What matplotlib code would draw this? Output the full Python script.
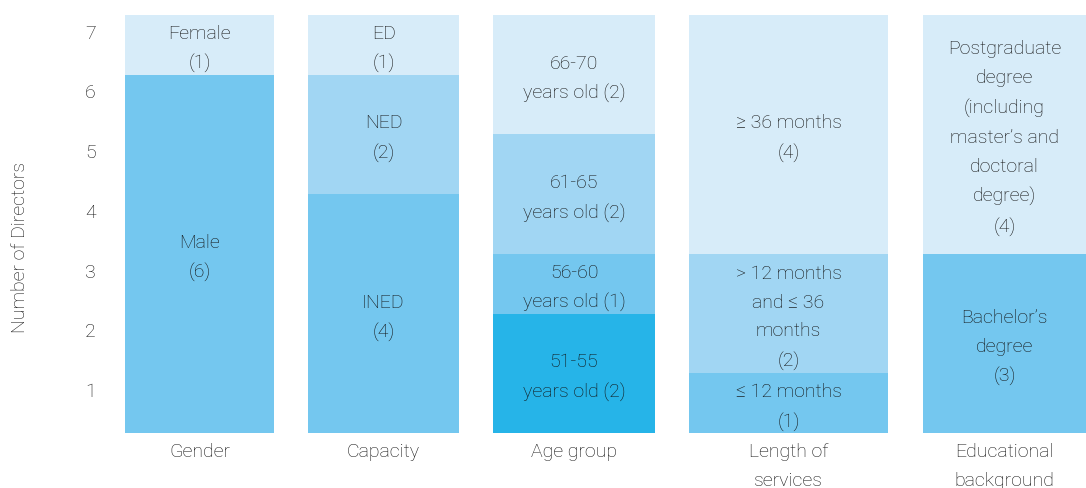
import matplotlib.pyplot as plt

plt.rcParams['font.family'] = ['Roboto', 'DejaVu Sans']
plt.rcParams['font.weight'] = 'light'

categories = ['Gender', 'Capacity', 'Age group', 'Length of\nservices', 'Educational\nbackground']

# segments listed bottom to top
gender_names = ['Male', 'Female']
gender_vals = [6, 1]
capacity_names = ['INED', 'NED', 'ED']
capacity_vals = [4, 2, 1]
age_names = ['51-55\nyears old', '56-60\nyears old', '61-65\nyears old', '66-70\nyears old']
age_vals = [2, 1, 2, 2]
length_names = ['\u2264 12 months', '> 12 months\nand \u2264 36\nmonths', '\u2265 36 months']
length_vals = [1, 2, 4]
edu_names = ['Bachelor\u2019s\ndegree',
             'Postgraduate\ndegree\n(including\nmaster\u2019s and\ndoctoral\ndegree)']
edu_vals = [3, 4]

# age group puts the count on the same line
inline_count = [False, False, True, False, False]

lightest = '#d7ecf9'
light = '#a1d6f3'
medium = '#74c7ef'
dark = '#26b4e8'
seg_colors = [
    [medium, lightest],
    [medium, light, lightest],
    [dark, medium, light, lightest],
    [medium, light, lightest],
    [medium, lightest],
]

all_names = [gender_names, capacity_names, age_names, length_names, edu_names]
all_vals = [gender_vals, capacity_vals, age_vals, length_vals, edu_vals]

# bar layout in pixels
lefts = [125, 308, 493, 689, 923]
widths = [149, 151, 162, 199, 163]

W, H = 1086, 488
fig = plt.figure(figsize=(W / 100, H / 100), dpi=100)
ax = fig.add_axes([125 / W, (H - 433) / H, (W - 125) / W, 418 / H])
ax.set_xlim(125, W)
ax.set_ylim(0, 7)

text_color = '#111111'
fs = 14
ls = 1.78
for i in range(len(categories)):
    bottom = 0
    cx = lefts[i] + widths[i] / 2
    for name, v, c in zip(all_names[i], all_vals[i], seg_colors[i]):
        ax.bar(cx, v, width=widths[i], bottom=bottom, color=c, linewidth=0)
        if inline_count[i]:
            label = f'{name} ({v})'
        else:
            label = f'{name}\n({v})'
        ax.text(cx, bottom + v / 2 - 0.07, label, ha='center', va='center',
                fontsize=fs, color=text_color, linespacing=ls)
        bottom += v

centers = [l + w / 2 for l, w in zip(lefts, widths)]
ax.set_xticks(centers, categories)
ax.set_yticks([k - 0.28 for k in range(1, 8)], [str(k) for k in range(1, 8)])
ax.tick_params(axis='both', length=0, labelsize=fs, colors=text_color)
ax.tick_params(axis='y', pad=21)
ax.tick_params(axis='x', pad=7)
for lab in ax.get_xticklabels():
    lab.set_linespacing(ls)
for s in ax.spines.values():
    s.set_visible(False)

fig.text(20 / W, 1 - 247 / H, 'Number of Directors', rotation=90,
         ha='center', va='center', fontsize=fs, color=text_color)

fig.savefig('out.png', dpi=100)
